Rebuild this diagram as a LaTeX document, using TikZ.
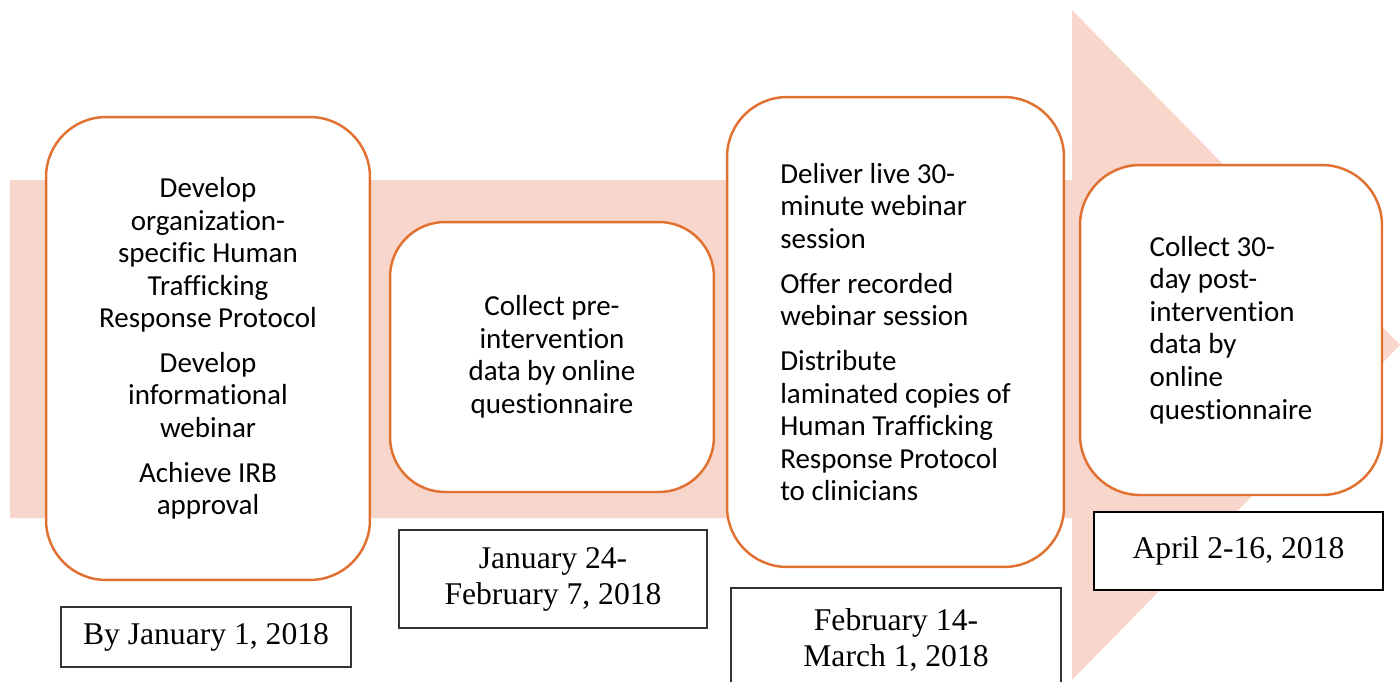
\documentclass[tikz,border=0pt]{standalone}
\usepackage{fontspec}
\setmainfont{Carlito}[Ligatures=NoCommon]
\newfontfamily\datefont{Liberation Serif}

\definecolor{bandpink}{HTML}{F8D6CB}
\definecolor{boxorange}{HTML}{E07130}

\tikzstyle{task}=[draw=boxorange, line width=1.4pt, fill=white, rounded corners=1.2cm,
  inner sep=0pt, font=\fontsize{16.5}{18.5}\selectfont]
\tikzstyle{datebox}=[draw=black!80, line width=0.7pt, fill=white, inner sep=0pt,
  align=center, font=\datefont\fontsize{18}{20.5}\selectfont]

\begin{document}
\begin{tikzpicture}[x=0.02cm, y=-0.02cm]
    \useasboundingbox (0,0) rectangle (1400,681);

    % timeline arrow behind the boxes
    \fill[bandpink] (10,180) -- (1072,180) -- (1072,10) -- (1400,345)
        -- (1072,680) -- (1072,518) -- (10,518) -- cycle;

    \node[task, minimum width=6.48cm, minimum height=9.26cm, align=center] (prep) at (208,348.5)
        {Develop\\organization-\\specific Human\\Trafficking\\Response Protocol\\[7pt]
         Develop\\informational\\webinar\\[7pt]
         Achieve IRB\\approval};
    \node[task, minimum width=6.48cm, minimum height=5.4cm, rounded corners=1.1cm, align=center] (pre) at (552,357)
        {Collect pre-\\intervention\\data by online\\questionnaire};
    \node[task, minimum width=6.74cm, minimum height=9.4cm, align=left] (deliver) at (895.5,332)
        {Deliver live 30-\\minute webinar\\session\\[7pt]
         Offer recorded\\webinar session\\[7pt]
         Distribute\\laminated copies of\\Human Trafficking\\Response Protocol\\to clinicians};
    \node[task, minimum width=6.04cm, minimum height=6.6cm, align=left] (post) at (1231,330)
        {Collect 30-\\day post-\\intervention\\data by\\online\\questionnaire};

    \node[datebox, minimum width=5.8cm, minimum height=1.2cm] (d1) at (206,637) {By January 1, 2018};
    \node[datebox, minimum width=6.16cm, minimum height=1.96cm] (d2) at (553,579) {January 24-\\February 7, 2018};
    \node[datebox, minimum width=6.6cm, minimum height=2.08cm] (d3) at (896,640) {February 14-\\March 1, 2018};
    \node[datebox, draw=black, line width=1.4pt, minimum width=5.78cm, minimum height=1.56cm] (d4) at (1238.5,551) {April 2-16, 2018};
\end{tikzpicture}
\end{document}
